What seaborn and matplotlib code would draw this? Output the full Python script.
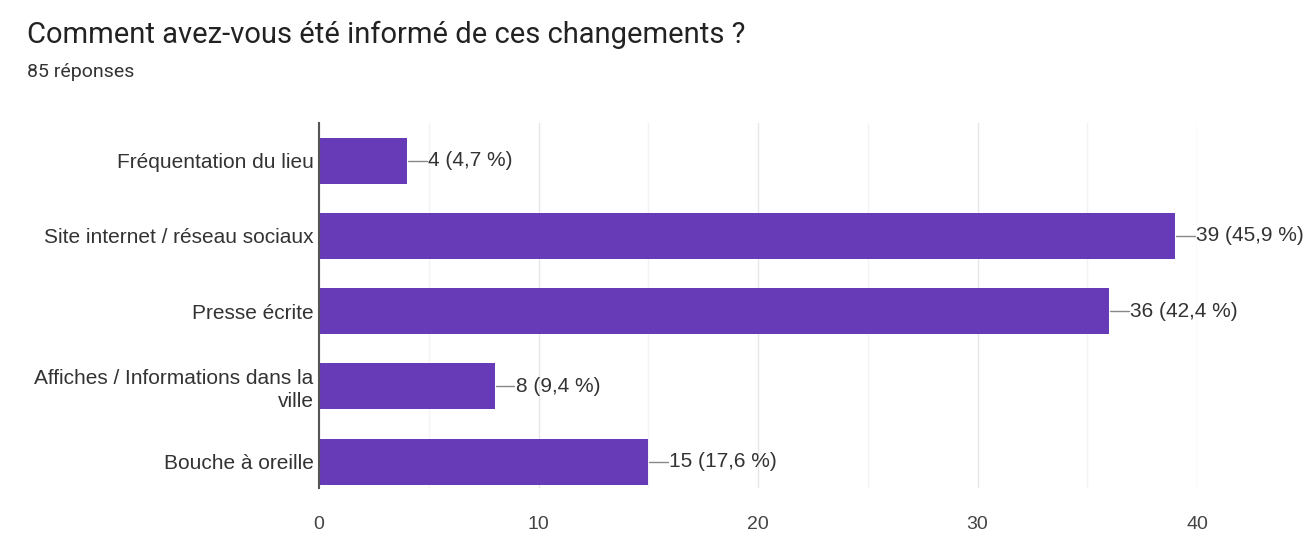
import matplotlib
matplotlib.use("Agg")
import matplotlib.pyplot as plt
import seaborn as sns
import pandas as pd

categories = ["Fréquentation du lieu", "Site internet / réseau sociaux", "Presse écrite",
              "Affiches / Informations dans la\nville", "Bouche à oreille"]
counts = [4, 39, 36, 8, 15]
percents = ["4,7", "45,9", "42,4", "9,4", "17,6"]
xticks = [0, 10, 20, 30, 40]

sns.set_theme(style="white")
plt.rcParams['font.family'] = ['Liberation Sans', 'DejaVu Sans']

df = pd.DataFrame({"cat": categories, "n": counts})

fig = plt.figure(figsize=(13.13, 5.36), dpi=100)
ax = fig.add_axes([0.243, 0.0896, 0.6687, 0.6809])
sns.barplot(data=df, y="cat", x="n", color="#673ab7", saturation=1, width=0.61, ax=ax, orient="h")
for p in ax.patches:
    p.set_edgecolor("none")

ax.set_xlim(0, 40)
ax.set_ylim(4.35, -0.5)
ax.set_xticks(xticks)
ax.set_xticks([5, 15, 25, 35], minor=True)
ax.grid(axis="x", which="major", color="#e6e6e6", lw=1.0)
ax.grid(axis="x", which="minor", color="#f3f3f3", lw=1.0)
ax.grid(axis="y", visible=False)
ax.set_axisbelow(True)
for s in ["top", "right", "bottom"]:
    ax.spines[s].set_visible(False)
ax.spines["left"].set_color("#555555")
ax.spines["left"].set_linewidth(1.5)
ax.set_xlabel("")
ax.set_ylabel("")
ax.tick_params(axis="x", length=0, labelsize=14, labelcolor="#444444", pad=20)
ax.tick_params(axis="y", length=0, labelsize=15, labelcolor="#333333", pad=4)
for lab in ax.get_yticklabels():
    lab.set_horizontalalignment("right")
    lab.set_multialignment("right")
    lab.set_linespacing(1.25)

for i, (n, pc) in enumerate(zip(counts, percents)):
    ax.plot([n + 0.05, n + 0.9], [i, i], color="#888888", lw=1, clip_on=False)
    ax.text(n + 0.95, i, f"{n} ({pc} %)", va="center", ha="left", fontsize=15, color="#333333")

fig.text(0.0205, 0.935, "Comment avez-vous été informé de ces changements ?", fontsize=21,
         color="#222222", va="center", ha="left", family=["Roboto", "DejaVu Sans"])
fig.text(0.0205, 0.866, "85 réponses", fontsize=14, color="#333333", va="center", ha="left",
         family=["Roboto", "DejaVu Sans"])

fig.savefig("out.png", dpi=100, facecolor="white")
